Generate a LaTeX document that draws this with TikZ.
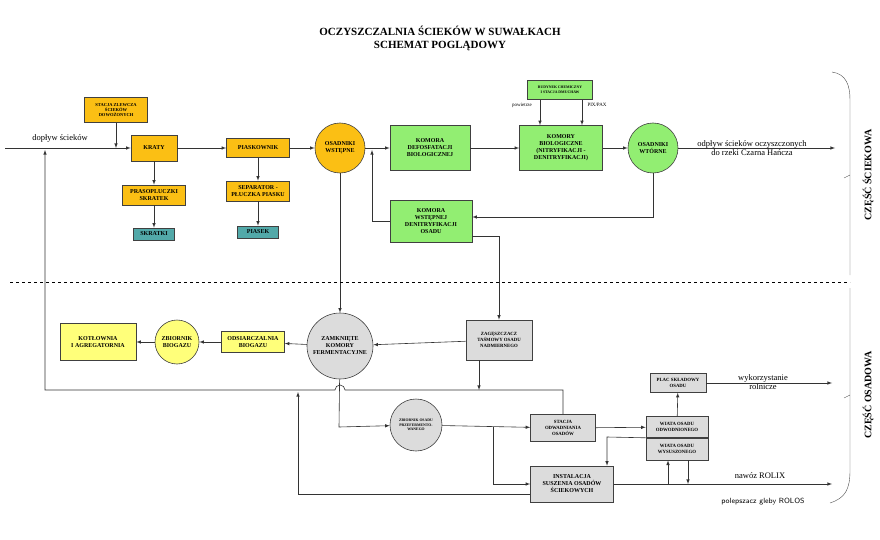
\documentclass[tikz,border=0pt]{standalone}
\usepackage{fontspec}
\setmainfont{Liberation Serif}
\usetikzlibrary{arrows}
\definecolor{orng}{HTML}{FBBF14}
\definecolor{grn}{HTML}{92EE72}
\definecolor{teal2}{HTML}{52A9A9}
\definecolor{ylw}{HTML}{FFFF7A}
\definecolor{gry}{HTML}{DCDCDC}
\tikzset{
  box/.style={draw=black!75,semithick,inner sep=1pt,align=center,font=\bfseries\fontsize{6}{7}\selectfont},
  tiny/.style={box,font=\bfseries\fontsize{3.8}{4.6}\selectfont},
  ring/.style={box,circle,inner sep=0pt},
  flow/.style={draw=black!80,semithick,-latex},
  line/.style={draw=black!80,semithick},
  lbl/.style={font=\fontsize{8.5}{9.5}\selectfont,align=center}
}
\begin{document}
\begin{tikzpicture}[x=1pt,y=-1pt]
\useasboundingbox (0,0) rectangle (880,540);
% title
\node[font=\bfseries\fontsize{11}{13}\selectfont,align=center] (title) at (440,38)
  {OCZYSZCZALNIA ŚCIEKÓW W SUWAŁKACH\\SCHEMAT POGLĄDOWY};
% upper part
\node[box,fill=orng,minimum width=63,minimum height=25,font=\bfseries\fontsize{4.5}{5.4}\selectfont] (zlew) at (116,110) {STACJA ZLEWCZA\\ŚCIEKÓW\\DOWOŻONYCH};
\node[box,fill=orng,minimum width=46,minimum height=26] (kraty) at (154,148) {KRATY};
\node[box,fill=orng,minimum width=63,minimum height=19] (piask) at (258,148) {PIASKOWNIK};
\node[ring,fill=orng,minimum size=50] (osw) at (340,148) {OSADNIKI\\WSTĘPNE};
\node[box,fill=grn,minimum width=80,minimum height=45] (defos) at (430,148) {KOMORA\\DEFOSFATACJI\\BIOLOGICZNEJ};
\node[box,fill=grn,minimum width=83,minimum height=45] (biol) at (561,148) {KOMORY\\BIOLOGICZNE\\(NITRYFIKACJI -\\DENITRYFIKACJI)};
\node[tiny,fill=grn,minimum width=65,minimum height=19] (chem) at (560,90) {BUDYNEK CHEMICZNY\\I STACJA DMUCHAW};
\node[ring,fill=grn,minimum size=50] (wtor) at (653,148) {OSADNIKI\\WTÓRNE};
\node[box,fill=orng,minimum width=63,minimum height=20] (praso) at (154,195) {PRASOPLUCZKI\\SKRATEK};
\node[box,fill=teal2,minimum width=41,minimum height=12] (skrat) at (154,234) {SKRATKI};
\node[box,fill=orng,minimum width=63,minimum height=20] (sep) at (258,191) {SEPARATOR -\\PŁUCZKA PIASKU};
\node[box,fill=teal2,minimum width=41,minimum height=12] (piasek) at (258,232) {PIASEK};
\node[box,fill=grn,minimum width=82,minimum height=42] (wstep) at (431,221) {KOMORA\\WSTĘPNEJ\\DENITRYFIKACJI\\OSADU};
\coordinate (in) at (5,148);
\coordinate (out) at (835,148);
\node[lbl,anchor=south] (doplyw) at (60,146) {dopływ ścieków};
\node[lbl] (odplyw) at (752,148) {odpływ ścieków oczyszczonych\\do rzeki Czarna Hańcza};
\node[font=\fontsize{5}{6}\selectfont] (pow) at (522,105) {powietrze};
\node[font=\fontsize{5}{6}\selectfont] (pix) at (597,105) {PIX/PAX};
\draw[flow] (in) -- (kraty);
\draw[flow] (zlew) -- (zlew|-kraty);
\draw[flow] (kraty) -- (piask);
\draw[flow] (piask) -- (osw);
\draw[flow] (osw) -- (defos);
\draw[flow] (defos) -- (biol);
\draw[flow] (biol) -- (wtor);
\draw[flow] (wtor) -- (out);
\draw[flow] (chem.south-|540,0) -- (biol.north-|540,0);
\draw[flow] (chem.south-|582,0) -- (biol.north-|582,0);
\draw[flow] (kraty) -- (praso);
\draw[flow] (praso) -- (skrat);
\draw[flow] (piask) -- (sep);
\draw[flow] (sep) -- (piasek);
\draw[flow] (wtor.south) |- (wstep.east|-0,217);
\draw[flow] (wstep.west) -| (372,150);
% lower part
\node[ring,fill=gry,minimum size=66] (zamk) at (340,346) {ZAMKNIĘTE\\KOMORY\\FERMENTACYJNE};
\node[tiny,fill=gry,minimum width=66,minimum height=40,font=\bfseries\fontsize{4.8}{5.8}\selectfont] (zag) at (499,340) {ZAGĘSZCZACZ\\TAŚMOWY OSADU\\NADMIERNEGO};
\node[box,fill=ylw,minimum width=63,minimum height=21] (odsi) at (253,342) {ODSIARCZALNIA\\BIOGAZU};
\node[ring,fill=ylw,minimum size=44] (zbio) at (177,342) {ZBIORNIK\\BIOGAZU};
\node[box,fill=ylw,minimum width=76,minimum height=37] (kotl) at (98,342) {KOTŁOWNIA\\I AGREGATORNIA};
\node[tiny,fill=gry,circle,minimum size=52,inner sep=0pt] (zprz) at (416,425) {ZBIORNIK OSADU\\PRZEFERMENTO-\\WANEGO};
\node[tiny,fill=gry,minimum width=65,minimum height=27,font=\bfseries\fontsize{4.8}{5.8}\selectfont] (stac) at (563,428) {STACJA\\ODWADNIANIA\\OSADÓW};
\node[box,fill=gry,minimum width=83,minimum height=36] (inst) at (572,484) {INSTALACJA\\SUSZENIA OSADÓW\\ŚCIEKOWYCH};
\node[tiny,fill=gry,minimum width=62,minimum height=21,font=\bfseries\fontsize{4.8}{5.8}\selectfont] (wodw) at (677,427) {WIATA OSADU\\ODWODNIONEGO};
\node[tiny,fill=gry,minimum width=62,minimum height=22,font=\bfseries\fontsize{4.8}{5.8}\selectfont,anchor=north] (wsus) at (wodw.south) {WIATA OSADU\\WYSUSZONEGO};
\node[tiny,fill=gry,minimum width=56,minimum height=19,font=\bfseries\fontsize{4.8}{5.8}\selectfont] (plac) at (678,383) {PLAC SKŁADOWY\\OSADU};
\coordinate (rol) at (832,383);
\coordinate (rolix) at (832,484);
\node[lbl] (wyk) at (763,382) {wykorzystanie\\rolnicze};
\node[lbl,anchor=south] (nawoz) at (760,482) {nawóz ROLIX};
\node[font=\sffamily\fontsize{7.5}{9}\selectfont] (rolos) at (763,502) {polepszacz gleby ROLOS};
\draw[flow] (osw) -- (zamk);
\draw[flow] (wstep.east|-0,236) -| (zag);
\draw[flow] (zag) -- (zamk);
\draw[flow] (zamk) -- (odsi);
\draw[flow] (odsi) -- (zbio);
\draw[flow] (zbio) -- (kotl);
\draw[flow] (stac.north) -- (563,390) -- (345,390) arc (0:-180:5) -- (45,390) -- (45,150);
\draw[flow] (zag.south-|479,0) -- (479,390);
\draw[flow] (zamk) -- (339,427) -- (zprz);
\draw[flow] (zprz) -- (stac);
\draw[flow] (493,427) |- (inst);
\draw[flow] (inst.west|-0,494) -- (298,494) -- (298,392);
\draw[flow] (stac) -- (wodw);
\draw[flow] (wodw.south west) -- (607,437) -- (inst.north-|607,0);
\draw[flow] (wodw) -- (plac);
\draw[flow] (plac) -- (rol);
\draw[flow] (inst) -- (rolix);
\draw[flow] (668,484) -- (wsus.south-|668,0);
\draw[flow] (wsus.south-|688,0) -- (688,484);
% divider and braces
\draw[semithick,dashed] (10,282) -- (850,282);
\draw[black!70] (832,72) .. controls (846,74) and (850,85) .. (850,100) -- (850,275) (850,175) -- (844,178);
\draw[black!70] (850,288) -- (850,470) .. controls (850,490) and (845,498) .. (830,503) (850,395) -- (844,398);
\node[rotate=90,font=\bfseries\fontsize{10}{12}\selectfont] (czsc) at (868,175) {CZĘŚĆ ŚCIEKOWA};
\node[rotate=90,font=\bfseries\fontsize{10}{12}\selectfont] (czos) at (868,395) {CZĘŚĆ OSADOWA};
\end{tikzpicture}
\end{document}
